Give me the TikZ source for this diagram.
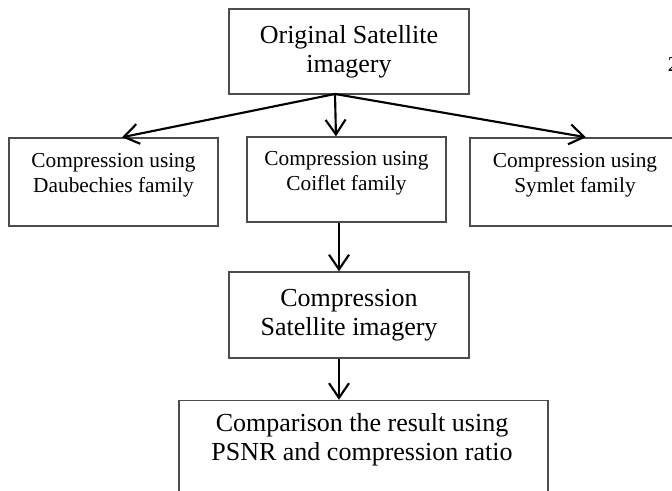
\documentclass[tikz,border=0pt]{standalone}
\usepackage{fontspec}
\setmainfont{Liberation Serif}
\usetikzlibrary{arrows.meta}
\usetikzlibrary{positioning}

\begin{document}
\begin{tikzpicture}[x=0.75pt,y=-0.75pt,
  box/.style={draw=black!70, line width=1.1pt, inner sep=0pt},
  big/.style={align=center, font=\fontsize{19.5}{22}\selectfont},
  small/.style={align=center, font=\fontsize{16}{18.75}\selectfont},
  arr/.style={-{Straight Barb[length=11pt,width=15pt]}, line width=1.6pt}]
\useasboundingbox (0,0) rectangle (672,491);

\node[box,big,minimum width=180pt,minimum height=63.75pt] (orig) at (349,51.5) {Original Satellite\\imagery};

% edit here for the three wavelet families
\foreach \nm/\cx/\cy/\w/\h/\ty/\fam in {daub/113.5/182/209/88/175.5/Daubechies, coif/346.5/179.5/199/85/173.5/Coiflet, sym/575/182/210/88/175.5/Symlet}
{
  \node[box, minimum width=0.75*\w pt, minimum height=0.75*\h pt] (\nm) at (\cx,\cy) {};
  \node[small] (txt\nm) at (\cx,\ty) {Compression using\\\fam\ family};
}

\node[box,big,minimum width=180pt,minimum height=64.5pt] (comp) at (349,315) {Compression\\Satellite imagery};

\node[box,minimum width=276.75pt,minimum height=75pt] (result) at (363.5,450.5) {};
\node[big] (txtresult) at (362,440) {Comparison the result using\\PSNR and compression ratio};

\node[small,anchor=base west,inner sep=0pt] (pagenum) at (667.5,72) {2};

\coordinate (split) at (335,94);
\coordinate (stem) at (339,0);

\draw[arr] (split) -- ([xshift=6.4pt]daub.north);
\draw[arr] (split) -- ([xshift=-7.9pt]coif.north);
\draw[arr] (split) -- ([xshift=8.25pt]sym.north);
\draw[arr] (coif.south -| stem) -- (comp.north -| stem);
\draw[arr] (comp.south -| stem) -- (result.north -| stem);
\end{tikzpicture}
\end{document}
